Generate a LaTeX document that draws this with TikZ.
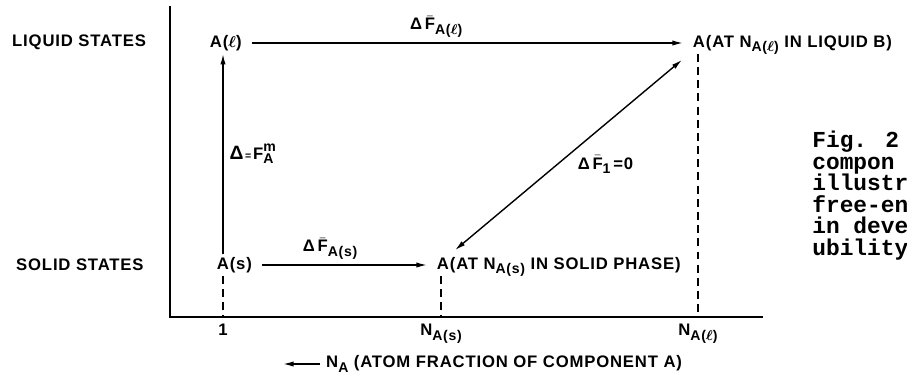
\documentclass[tikz,border=0pt]{standalone}
\usepackage{amsmath}
\usepackage{fontspec}
\newfontfamily\labfont{Liberation Sans}[LetterSpace=5]
\newfontfamily\capfont{Liberation Mono}
\usetikzlibrary{arrows.meta, calc}

\newcommand{\lsub}[1]{\raisebox{-0.5ex}{\fontsize{8}{9}\selectfont #1}}
\newcommand{\Fbar}{\ensuremath{\bar{\mbox{F}}}}
\newcommand{\liq}{\ensuremath{\boldsymbol{\ell}}}

\begin{document}
\begin{tikzpicture}[
        x=0.02cm, y=-0.02cm,
        >={Latex[length=6pt,width=3pt]},
        lbl/.style={font=\labfont\bfseries\fontsize{9.5}{11}\selectfont},
        ptlabel/.style={lbl, inner sep=1.5pt, text height=7pt, text depth=2pt},
        ticklabel/.style={lbl, below=3pt, inner sep=1pt},
        flow/.style={->, line width=0.8pt, shorten <=4pt, shorten >=4pt},
        guide/.style={line width=0.8pt, dash pattern=on 4.5pt off 3pt}
    ]
    \useasboundingbox (0,0) rectangle (907,390);
    \clip (0,0) rectangle (907,390);

    % --- Axes ---
    \coordinate (O) at (170,317);
    \draw[line width=1.1pt] (170,6) -- (O) -- (763,317);
    \coordinate (x1) at (223,317);
    \coordinate (xs) at (441,317);
    \coordinate (xl) at (698,317);

    % --- Row labels ---
    \node[lbl, anchor=west] (liqrow) at (6,42) {LIQUID STATES};
    \node[lbl, anchor=west] (solrow) at (10,265) {SOLID STATES};

    % --- States of A ---
    \node[ptlabel, anchor=west] (Al) at (207,43) {A(\liq)};
    \node[ptlabel, anchor=west] (As) at (214,265) {A(s)};
    \node[ptlabel, anchor=west] (Aliq) at (690,43) {A(AT N\lsub{A(\liq)} IN LIQUID B)};
    \node[ptlabel, anchor=west] (Asol) at (434,265) {A(AT N\lsub{A(s)} IN SOLID PHASE)};

    % --- Free-energy steps ---
    \draw[flow] (Al) -- node[lbl, above=2pt, pos=0.43, inner sep=1pt] (dFl) {Δ\,\Fbar\lsub{A(\liq)}} (Aliq);
    \draw[flow] (As) -- node[lbl, above=2pt, pos=0.42, inner sep=1pt] (dFs) {Δ\,\Fbar\lsub{A(s)}} (Asol);
    \draw[->, line width=0.8pt] (As.north -| x1) -- node[lbl, right, pos=0.5] (dFm)
        {{\fontsize{11}{11}\selectfont Δ}{\fontsize{6}{6}\selectfont\,=\,}F\rlap{\raisebox{0.9ex}{\fontsize{8}{9}\selectfont m}}\lsub{A}} (Al.south -| x1);

    \coordinate (dlo) at ([shift={(21,-4)}]Asol.north west);
    \coordinate (dhi) at ([shift={(-8,6)}]Aliq.south west);
    \draw[<->, line width=0.8pt] (dlo) -- node[lbl, right=8pt, pos=0.45] (dF1) {Δ\,\Fbar\lsub{1}\,=0} (dhi);

    % --- Composition guides ---
    \draw[guide] (As.south -| x1) -- (x1);
    \draw[guide] (Asol.south -| xs) -- (xs);
    \draw[guide] (Aliq.south -| xl) -- (xl);

    \node[ticklabel] (t1) at (x1) {1};
    \node[ticklabel] (tNs) at (xs) {N\lsub{A(s)}};
    \node[ticklabel] (tNl) at (xl) {N\lsub{A(\liq)}};

    % --- Axis caption ---
    \node[lbl, anchor=west] (naxis) at (320,364) {N\lsub{A} (ATOM FRACTION OF COMPONENT A)};
    \coordinate (ntip) at (283,364);
    \draw[->, line width=0.8pt] (naxis.west) -- (ntip);

    % --- Figure caption (cut at the right edge) ---
    \node[font=\capfont\bfseries\fontsize{13}{12.2}\selectfont, align=left, anchor=north west, inner sep=0pt] (fig)
        at (812,131) {Fig. 2\\compon\\illustra\\free-en\\in devel\\ubility};

\end{tikzpicture}
\end{document}
